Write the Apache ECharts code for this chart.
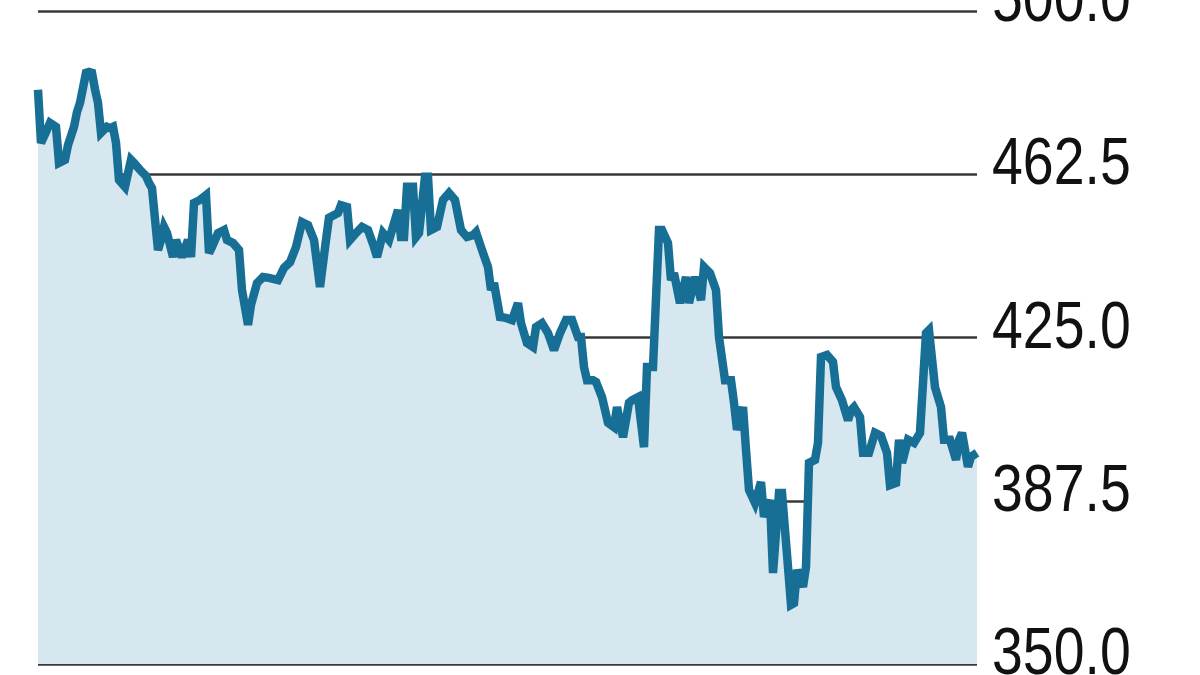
<!DOCTYPE html>
<html>
<head>
<meta charset="utf-8">
<script src="https://cdn.jsdelivr.net/npm/echarts@6/dist/echarts.min.js"></script>
<style>
html,body{margin:0;padding:0;background:#fff;}
#chart{width:1200px;height:675px;}
</style>
</head>
<body>
<div id="chart"></div>
<script>
// Trading-day index (x) and index level (y)
var days = [0,1,3,4,6,7,9,10,12,13,14,16,17,18,19,20,21,22,23,24,25,26,27,29,31,32,34,36,37,38,
  40,41,42,43,45,46,48,50,51,52,54,56,57,58,60,62,63,65,67,68,70,71,73,75,77,80,82,84,86,88,
  90,92,94,96,97,100,101,103,104,106,108,110,112,113,115,117,118,120,121,122,123,125,126,127,129,130,131,133,135,137,
  139,141,143,145,146,148,150,151,152,154,156,158,160,161,163,165,166,168,170,172,174,176,178,180,181,182,183,185,186,188,
  190,192,193,195,197,198,200,202,203,205,207,208,210,211,212,214,216,217,219,221,222,224,226,227,229,231,232,233,235,236,
  237,239,241,242,244,245,247,248,250,251,252,253,255,256,257,259,260,261,263,265,266,268,270,271,272,274,275,277,279,281,
  283,284,286,287,288,290,292,294,296,297,299,301,302,304,306,307,308,310,311,313];
var values = [481.9,469.7,472.7,474.3,473.4,465.1,465.8,469.2,473.4,476.8,478.9,485.8,486.0,485.8,482.0,478.9,472.0,472.7,473.4,473.1,473.4,469.7,461.2,459.6,465.8,465.1,463.5,462.1,460.5,459.3,
  445.1,447.4,450.4,449.0,443.5,447.4,443.5,447.4,443.5,455.9,456.6,457.7,444.4,445.8,449.0,449.7,447.4,446.7,445.1,435.9,427.9,432.5,437.5,438.9,438.7,438.2,441.0,442.3,445.8,451.5,
  450.8,447.4,436.6,447.4,452.5,453.6,455.4,455.0,447.4,449.0,450.4,449.7,445.8,443.5,449.0,447.4,449.7,454.3,448.1,448.1,459.6,459.6,448.1,449.0,461.9,461.9,449.7,450.4,456.6,458.2,
  456.6,449.7,448.1,448.5,449.2,445.1,441.2,435.9,437.5,429.7,429.5,429.0,432.9,428.3,423.7,422.8,427.4,428.3,426.0,422.1,426.0,429.0,429.0,425.1,425.1,418.2,415.2,415.2,414.8,411.3,
  405.4,404.4,409.0,402.1,410.0,410.6,411.3,399.8,418.2,418.2,449.7,449.7,446.7,438.2,439.8,432.9,438.9,432.9,438.9,433.6,441.2,439.8,435.9,425.1,415.2,415.2,410.0,403.8,409.0,399.2,
  390.0,387.0,391.8,383.8,387.7,370.9,389.3,389.3,372.3,363.6,364.0,371.6,367.7,372.3,396.2,396.9,400.8,420.5,421.0,419.4,413.6,410.6,406.0,408.3,409.0,406.7,398.5,398.5,403.1,402.4,
  398.5,391.1,391.6,401.5,396.2,401.5,400.8,403.1,426.0,426.7,413.6,409.0,401.5,401.5,396.9,401.5,403.1,395.3,397.6,398.5];

var yTicks = [350, 387.5, 425, 462.5, 500];

var points = days.map(function (d, i) { return [d, values[i]]; });

var chart = echarts.init(document.getElementById('chart'), null, {renderer: 'canvas'});
chart.setOption({
  animation: false,
  backgroundColor: '#ffffff',
  grid: {left: 38, right: 223, top: 11, bottom: 11, containLabel: false, outerBoundsMode: 'none'},
  xAxis: {
    type: 'value', min: days[0], max: days[days.length - 1],
    show: false
  },
  yAxis: {
    type: 'value', position: 'right',
    min: yTicks[0], max: yTicks[yTicks.length - 1], interval: 37.5,
    axisLine: {show: false},
    axisTick: {show: false},
    splitLine: {show: true, lineStyle: {color: '#383838', width: 2.5}},
    axisLabel: {show: false}
  },
  series: [{
    type: 'line',
    data: points,
    showSymbol: false,
    symbol: 'none',
    lineStyle: {color: '#176f96', width: 8.5, join: 'miter', miterLimit: 3},
    areaStyle: {color: '#d6e7f0', opacity: 1, origin: 'start'},
    z: 3
  }]
});

// Tick labels: placed through the axis scale, drawn in a narrowed sans face
var xEnd = chart.convertToPixel({xAxisIndex: 0}, days[days.length - 1]);
var labels = yTicks.map(function (v) {
  var py = chart.convertToPixel({yAxisIndex: 0}, v);
  return {
    type: 'text',
    x: xEnd + 15,
    y: py - 8,
    scaleX: 0.84,
    silent: true,
    style: {
      text: v.toFixed(1),
      fill: '#111111',
      font: '66px "Liberation Sans", Arimo, Arial, sans-serif',
      verticalAlign: 'middle',
      align: 'left'
    }
  };
});
chart.setOption({graphic: labels});
</script>
</body>
</html>
